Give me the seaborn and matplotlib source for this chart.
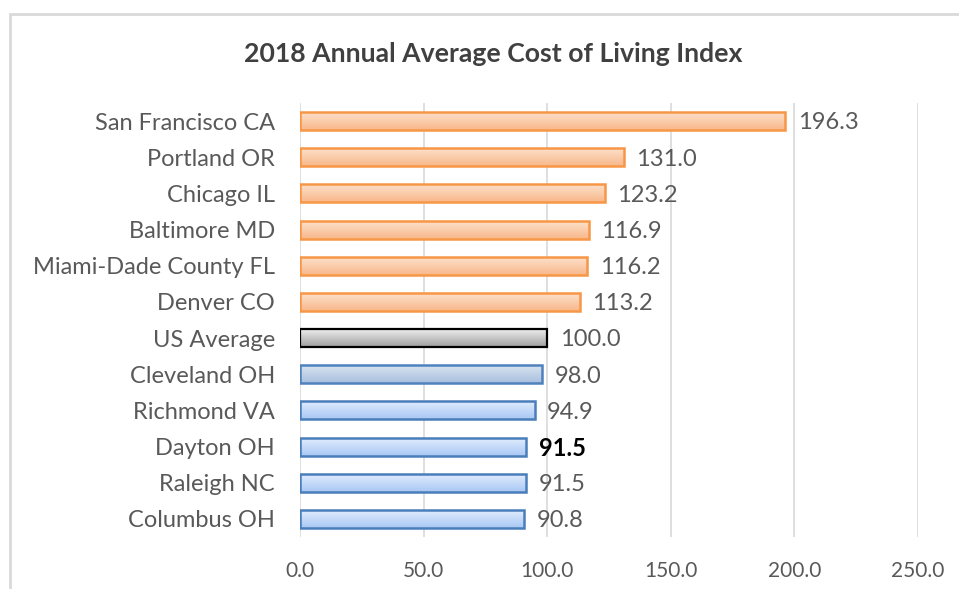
import numpy as np
import pandas as pd
import seaborn as sns
import matplotlib.pyplot as plt
from matplotlib.colors import LinearSegmentedColormap
from matplotlib.patches import Rectangle

cities = ["San Francisco CA", "Portland OR", "Chicago IL", "Baltimore MD",
          "Miami-Dade County FL", "Denver CO", "US Average", "Cleveland OH",
          "Richmond VA", "Dayton OH", "Raleigh NC", "Columbus OH"]
index_values = [196.3, 131.0, 123.2, 116.9, 116.2, 113.2, 100.0, 98.0,
                94.9, 91.5, 91.5, 90.8]
groups = ["above"] * 6 + ["average", "cleveland"] + ["below"] * 4
x_ticks = [0, 50, 100, 150, 200, 250]

df = pd.DataFrame({"city": cities, "index": index_values, "group": groups})

# gradient (top colour, bottom colour) and edge colour per group
styles = {
    "above": (("#fde3cf", "#f8b88a"), "#f79646"),
    "average": (("#f2f2f2", "#a0a0a0"), "#000000"),
    "cleveland": (("#dbe5f1", "#a8c0de"), "#4f81bd"),
    "below": (("#e3eefd", "#a9c8f5"), "#4a7ebb"),
}

sns.set_style("white")
plt.rcParams["font.family"] = ["Lato", "DejaVu Sans"]

fig = plt.figure(figsize=(9.59, 5.89), dpi=100)
ax = fig.add_axes([300 / 959, 1 - 537 / 589, 618 / 959, 434 / 589])

sns.barplot(data=df, x="index", y="city", orient="h", width=0.5,
            color="white", ax=ax, zorder=3)

for bar, grp in zip(ax.patches, df["group"]):
    (c_top, c_bot), edge = styles[grp]
    bar.set_facecolor("none")
    bar.set_edgecolor(edge)
    bar.set_linewidth(1.8 if grp != "average" else 1.6)
    bar.set_zorder(4)
    cmap = LinearSegmentedColormap.from_list("g", [c_top, c_bot])
    x0, y0 = bar.get_x(), bar.get_y()
    w, h = bar.get_width(), bar.get_height()
    grad = np.linspace(0, 1, 64).reshape(-1, 1)
    im = ax.imshow(grad, cmap=cmap, aspect="auto",
                   extent=(x0, x0 + w, y0 + h, y0), origin="upper", zorder=3)
    im.set_clip_path(bar)

for i, (v, city) in enumerate(zip(df["index"], df["city"])):
    bold = city == "Dayton OH"
    ax.text(v + 5, i + 0.05, f"{v:.1f}", va="center", ha="left", fontsize=17,
            color="black" if bold else "#595959",
            fontweight="bold" if bold else "normal", zorder=5)

ax.set_xlim(0, 250)
ax.set_ylim(11.5, -0.5)
ax.set_xticks(x_ticks)
ax.set_xticklabels([f"{t:.1f}" for t in x_ticks], fontsize=15, color="#595959")
ax.tick_params(axis="y", labelsize=17, colors="#595959", length=0, pad=18)
ax.tick_params(axis="x", length=0, pad=17)
for lbl in ax.get_yticklabels():
    lbl.set_color("#595959")
ax.set_xlabel("")
ax.set_ylabel("")
ax.xaxis.grid(True, color="#d9d9d9", linewidth=1.2, zorder=0)
ax.set_axisbelow(True)
for s in ["top", "right", "bottom", "left"]:
    ax.spines[s].set_visible(False)

fig.text(493 / 959, 1 - 54 / 589, "2018 Annual Average Cost of Living Index",
         ha="center", va="center", fontsize=19.2, fontweight="bold",
         color="#404040")

# chart frame, partly outside the picture
fig.patches.append(Rectangle((10 / 959, -0.2), 1.2, 1 - 14 / 589 + 0.2,
                             transform=fig.transFigure, fill=False,
                             edgecolor="#d9d9d9", linewidth=2))
# descender of the page heading above the chart
fig.text(224 / 959, 1 + 10 / 589, "g", ha="center", va="baseline",
         fontsize=26, color="#2e75b6")

fig.savefig("out.png", dpi=100)
